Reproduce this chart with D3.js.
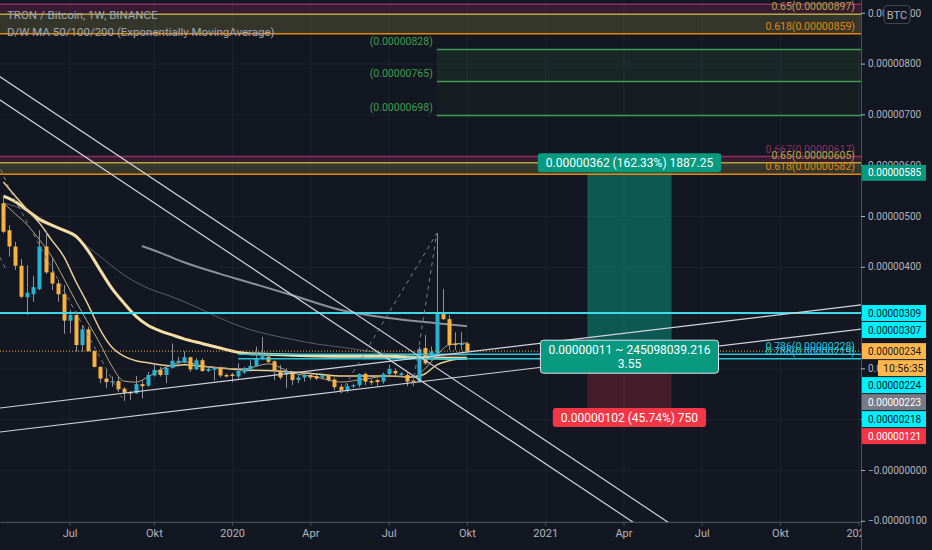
<!DOCTYPE html>
<html>
<head>
<meta charset="utf-8">
<script src="https://cdn.jsdelivr.net/npm/d3@7"></script>
<style>
body { margin: 0; background: #131722; }
svg { display: block; font-family: Roboto, "Noto Sans", sans-serif; }
</style>
</head>
<body>
<div id="chart"></div>
<script>
// TRON / Bitcoin weekly, values in satoshi (1e-8 BTC), first bar = week of 2019-04-15
const firstWeek = "2019-04-15";
const open  = [525,472,440,402,340,346,356,440,389,367,346,294,305,246,277,234,203,180,173,175,160,153,151,169,166,186,197,187,201,212,212,222,198,216,195,197,201,187,188,184,192,197,205,219,223,214,195,188,193,177,182,187,185,182,187,178,164,156,165,167,189,175,177,174,189,195,187,187,176,174,240,220,230,307,297,249,246,249];
const high  = [538,482,449,415,403,382,472,469,417,374,364,315,312,285,282,236,204,197,184,185,163,156,185,177,193,211,203,207,249,223,234,223,220,220,203,203,204,190,191,210,203,216,243,262,229,216,207,200,195,187,190,193,187,190,189,182,169,170,170,190,192,179,180,192,207,200,193,192,180,243,266,243,466,356,305,271,271,252];
const low   = [466,420,394,338,305,331,354,386,354,331,268,269,233,233,233,202,171,161,164,154,136,138,150,141,164,184,184,171,200,203,210,193,197,193,193,176,182,182,173,180,189,193,203,216,210,177,178,161,167,171,174,177,177,178,174,157,151,152,161,163,167,167,165,170,187,185,184,165,165,172,207,216,226,295,236,236,236,231];
const close = [469,440,402,341,349,360,440,389,367,346,294,305,246,277,234,203,180,173,175,159,152,151,169,165,187,197,187,201,215,215,222,198,216,195,199,201,186,184,185,195,200,205,220,224,213,195,182,193,177,182,187,182,180,187,177,163,156,165,167,189,174,172,173,189,199,190,190,174,172,238,210,233,307,297,246,246,249,234];

// moving averages at some bar indices
const maIdxA = [0,2,4,6,8,10,12,14,16,18,20,22,24,26,28,30,33,36,40,48,56,64,70,77];
const maA    = [539,528,511,493,482,472,461,433,395,358,329,303,285,274,266,258,249,240,230,226,224,224,221,220];
const maIdxB = [0,2,4,6,8,10,12,14,16,18,20,22,24,26,28,30,33,36,40,44,48,52,56,60,64,68,70,72,74,77];
const maB    = [567,539,512,486,453,421,372,327,278,242,224,215,211,207,205,207,204,201,197,196,193,189,185,185,185,183,189,207,215,220];
const maC    = [526,504,482,453,421,378,333,291,250,205,175,173,183,197,207,213,205,201,199,209,191,183,173,179,185,183,199,226,246,250];
const maIdxG1 = [0,4,8,12,16,20,24,28,32,36,40,44,48,52,56,60,64,68,72,77];
const maG1    = [526,510,484,457,421,384,358,341,321,299,280,267,257,248,242,235,229,227,226,226];
const maIdxG2 = [23,26,30,36,40,48,56,64,72,77];
const maG2    = [441,428,409,386,372,344,315,299,289,283];

// axis ticks
const xTickMonths = ["2019-07","2019-10","2020-01","2020-04","2020-07","2020-10","2021-01","2021-04","2021-07","2021-10","2022-01"];
const xTickLabels = ["Jul","Okt","2020","Apr","Jul","Okt","2021","Apr","Jul","Okt","2022"];
const yTicks = [-100,0,100,200,300,400,500,600,700,800,900];

// drawings
const fibRatios = ["0.667","0.65","0.618"];
const fibTop = [917, 897, 859];
const fibLow = [617, 605, 582];
const fibColors = ["#8e2f5e", "#b3a540", "#e3870e"];
const targetLevels = [828, 765, 698];
const targetStart = 72;
const cyanFib = [228, 219];
const cyanFibStart = 39;
const resistance = 309;
const lastPrice = 234;
const trendLines = [   // [bar, value, bar, value]
  [0, 723.8, 60, 249.6],
  [0, 769.7, 60, 295.5],
  [0, 122.8, 60, 207.9],
  [0, 75.6, 60, 160.6]
];
const dashIdx = [[-1, 1.5, 19.7], [-0.6, 0.3], [56, 72, 68]];
const dashVal = [[606, 541, 142], [419, 398], [151, 466, 165]];
const longStart = 97, longEnd = 111;
const longEntry = 223, longTarget = 585, longStop = 121;

// price scale labels
const markValues = [585, 309, 307, 234, 224, 223, 218, 121];
const markKinds  = ["teal","cyan","cyan","last","cyan","gray","cyan","red"];
const timerText = "10:56:35";

const W = 932, H = 550;
const plotW = 861, plotH = 522;
const upColor = "#26b3d3", downColor = "#f8b13f";

const svg = d3.select("#chart").append("svg")
    .attr("width", W)
    .attr("height", H);
svg.append("rect").attr("width", W).attr("height", H).attr("fill", "#131722");

const x = d3.scaleUtc()
    .domain([new Date("2019-04-11T02:00:00Z"), new Date("2022-01-06T05:00:00Z")])
    .range([0, plotW]);
const y = d3.scaleLinear().domain([-102.4, 925.2]).range([plotH, 0]);

const weekDate = i => new Date(Date.parse(firstWeek) + i * 7 * 864e5);
const xi = i => x(weekDate(i));
const sat = v => (v <= 0 ? "\u2212" : "") + (Math.abs(v) * 1e-8).toFixed(8);

const defs = svg.append("defs");
defs.append("clipPath").attr("id", "plot").append("rect").attr("width", plotW).attr("height", plotH);
defs.append("clipPath").attr("id", "xlab").append("rect").attr("width", plotW).attr("height", H);

const plot = svg.append("g").attr("clip-path", "url(#plot)");

// grid
const xTickDates = xTickMonths.map(m => d3.utcMonday.ceil(new Date(m + "-01T00:00:00Z")));
plot.append("g")
    .attr("transform", `translate(0,${plotH})`)
    .call(d3.axisBottom(x).tickValues(xTickDates).tickSize(-plotH).tickFormat(""))
    .call(g => g.select(".domain").remove())
    .call(g => g.selectAll("line").attr("stroke", "#1e2230"));
plot.append("g")
    .call(d3.axisLeft(y).tickValues(yTicks).tickSize(-plotW).tickFormat(""))
    .call(g => g.select(".domain").remove())
    .call(g => g.selectAll("line").attr("stroke", "#1e2230"));

// fib bands
function fibBands(levels) {
    plot.append("rect").attr("x", 0).attr("width", plotW)
        .attr("y", y(levels[0])).attr("height", y(levels[1]) - y(levels[0]))
        .attr("fill", "rgba(158,38,100,0.25)");
    plot.append("rect").attr("x", 0).attr("width", plotW)
        .attr("y", y(levels[1])).attr("height", y(levels[2]) - y(levels[1]))
        .attr("fill", "rgba(190,180,80,0.2)");
}
fibBands(fibTop);
fibBands(fibLow);

// target zone
const tx0 = xi(targetStart);
plot.append("rect").attr("x", tx0).attr("width", plotW - tx0)
    .attr("y", y(targetLevels[0])).attr("height", y(targetLevels[1]) - y(targetLevels[0]))
    .attr("fill", "rgba(76,175,80,0.1)");
plot.append("rect").attr("x", tx0).attr("width", plotW - tx0)
    .attr("y", y(targetLevels[1])).attr("height", y(targetLevels[2]) - y(targetLevels[1]))
    .attr("fill", "rgba(76,175,80,0.04)");

// long position
const lx0 = xi(longStart), lx1 = xi(longEnd);
plot.append("rect").attr("x", lx0).attr("width", lx1 - lx0)
    .attr("y", y(longTarget)).attr("height", y(longEntry) - y(longTarget))
    .attr("fill", "rgba(8,153,129,0.5)");
plot.append("rect").attr("x", lx0).attr("width", lx1 - lx0)
    .attr("y", y(longEntry)).attr("height", y(longStop) - y(longEntry))
    .attr("fill", "rgba(242,54,69,0.22)");

// moving averages
const maLine = d3.line().x(d => xi(d[0])).y(d => y(d[1])).curve(d3.curveMonotoneX);
function drawMA(idx, vals, color, w) {
    plot.append("path")
        .datum(idx.map((d, k) => [d, vals[k]]))
        .attr("fill", "none")
        .attr("stroke", color)
        .attr("stroke-width", w)
        .attr("d", maLine);
}
drawMA(maIdxG1, maG1, "#5b5e69", 1);
drawMA(maIdxG2, maG2, "#8e9098", 2);
drawMA(maIdxA, maA, "#f4dea4", 3);
drawMA(maIdxB, maB, "#e9cf8f", 1.5);
drawMA(maIdxB, maC, "#b9a67e", 1);

// candles
const candles = open.map((o, i) => ({i: i, o: o, h: high[i], l: low[i], c: close[i]}));
plot.selectAll(".wick")
    .data(candles)
    .enter()
    .append("line")
    .attr("x1", d => Math.round(xi(d.i)) + 0.5)
    .attr("x2", d => Math.round(xi(d.i)) + 0.5)
    .attr("y1", d => y(d.h))
    .attr("y2", d => y(d.l))
    .attr("stroke", "#8d9099");
plot.selectAll(".body")
    .data(candles)
    .enter()
    .append("rect")
    .attr("x", d => Math.round(xi(d.i)) - 1.5)
    .attr("width", 4)
    .attr("y", d => y(Math.max(d.o, d.c)))
    .attr("height", d => Math.max(1.2, Math.abs(y(d.o) - y(d.c))))
    .attr("fill", d => d.c >= d.o ? upColor : downColor);

// fib lines
function hLine(v, x0, color, w, dash) {
    plot.append("line")
        .attr("x1", x0).attr("x2", plotW)
        .attr("y1", y(v)).attr("y2", y(v))
        .attr("stroke", color)
        .attr("stroke-width", w)
        .attr("stroke-dasharray", dash || null);
}
fibTop.forEach((v, k) => hLine(v, 0, fibColors[k], 1.5));
fibLow.forEach((v, k) => hLine(v, 0, fibColors[k], 1.5));
targetLevels.forEach(v => hLine(v, tx0, "#3f9d4e", 1.5));
plot.append("rect")
    .attr("x", xi(67)).attr("width", xi(69) - xi(67))
    .attr("y", y(cyanFib[0])).attr("height", y(cyanFib[1]) - y(cyanFib[0]))
    .attr("fill", "rgba(38,198,218,0.3)");
cyanFib.forEach(v => hLine(v, xi(cyanFibStart), "#26c6da", 1.5));
hLine(resistance, 0, "#3cdaea", 2);
hLine(lastPrice, 0, "#f8b13f", 1, "1,2");

// trend lines, extended over the whole pane
trendLines.forEach(t => {
    const xa = xi(t[0]), ya = y(t[1]), xb = xi(t[2]), yb = y(t[3]);
    const s = (yb - ya) / (xb - xa);
    plot.append("line")
        .attr("x1", -10).attr("y1", ya + s * (-10 - xa))
        .attr("x2", plotW + 10).attr("y2", ya + s * (plotW + 10 - xa))
        .attr("stroke", "#d1d4dc")
        .attr("stroke-width", 1.2);
});

// dashed pattern lines
const dashLine = d3.line().x(d => xi(d[0])).y(d => y(d[1]));
dashIdx.forEach((idx, k) => {
    plot.append("path")
        .datum(idx.map((d, j) => [d, dashVal[k][j]]))
        .attr("fill", "none")
        .attr("stroke", "#7c7f8a")
        .attr("stroke-width", 1)
        .attr("stroke-dasharray", "4,4")
        .attr("d", dashLine);
});

// level texts
function levelText(v, txt, color, xr, anchor) {
    plot.append("text")
        .attr("x", xr).attr("y", y(v) - 4)
        .attr("text-anchor", anchor || "end")
        .attr("fill", color)
        .attr("font-size", 10.5)
        .text(txt);
}
fibTop.forEach((v, k) => levelText(v, fibRatios[k] + "(" + sat(v) + ")", fibColors[k], 855));
fibLow.forEach((v, k) => levelText(v, fibRatios[k] + "(" + sat(v) + ")", fibColors[k], 855));
cyanFib.forEach(v => levelText(v, "0.786(" + sat(v) + ")", "#26c6da", 855));
targetLevels.forEach(v => levelText(v, "(" + sat(v) + ")", "#3f9d4e", tx0 - 4));

// long position labels
function tag(cx, cy, lines, fill, border) {
    const g = svg.append("g");
    const texts = lines.map((t, k) => g.append("text")
        .attr("x", cx)
        .attr("y", cy + (k - (lines.length - 1) / 2) * 14 + 4)
        .attr("text-anchor", "middle")
        .attr("fill", "#ffffff")
        .attr("font-size", 12)
        .text(t));
    const tw = d3.max(texts, t => t.node().getComputedTextLength());
    const h = lines.length * 14 + 5;
    g.insert("rect", "text")
        .attr("x", cx - tw / 2 - 8).attr("width", tw + 16)
        .attr("y", cy - h / 2).attr("height", h)
        .attr("rx", 3)
        .attr("fill", fill)
        .attr("stroke", border || "none");
}
const lcx = (lx0 + lx1) / 2;
const pct = d => (d / longEntry * 100).toFixed(2) + "%";
tag(lcx, y(longTarget) - 10, [sat(longTarget - longEntry) + " (" + pct(longTarget - longEntry) + ") 1887.25"], "#089981");
tag(lcx, y(longStop) + 9, [sat(longEntry - longStop) + " (" + pct(longEntry - longStop) + ") 750"], "#f23645");
tag(lcx, y(longEntry), ["0.00000011 ~ 245098039.216", "3.55"], "#089981", "#e0e3eb");

// legend
svg.append("text").attr("x", 7).attr("y", 19).attr("fill", "#a3a6af").attr("font-size", 11.5)
    .text("TRON / Bitcoin, 1W, BINANCE");
svg.append("text").attr("x", 7).attr("y", 36).attr("fill", "#a3a6af").attr("font-size", 11.5)
    .text("D/W MA 50/100/200 (Exponentially MovingAverage)");

// axes
svg.append("g")
    .attr("clip-path", "url(#xlab)")
    .append("g")
    .attr("transform", `translate(0,${plotH})`)
    .call(d3.axisBottom(x).tickValues(xTickDates).tickSize(4).tickSizeOuter(0)
        .tickFormat((d, i) => xTickLabels[i]))
    .call(g => g.select(".domain").attr("stroke", "#4c505b"))
    .call(g => g.selectAll(".tick line").attr("stroke", "#4c505b"))
    .call(g => g.selectAll("text").attr("fill", "#b2b5be").attr("font-size", 11)
        .attr("font-family", "Roboto, sans-serif"));

svg.append("g")
    .attr("transform", `translate(${plotW},0)`)
    .call(d3.axisRight(y).tickValues(yTicks).tickSize(4).tickSizeOuter(0).tickFormat(sat))
    .call(g => g.select(".domain").attr("stroke", "#4c505b").attr("d", `M0.5,0V${H}`))
    .call(g => g.selectAll(".tick line").attr("stroke", "#b2b5be"))
    .call(g => g.selectAll("text").attr("fill", "#b2b5be").attr("font-size", 10)
        .attr("font-family", "Roboto, sans-serif"));

// price scale labels, stacked like the platform does
const kindStyle = {
    teal: ["#089981", "#ffffff"],
    cyan: ["#00f0ff", "#131722"],
    last: ["#ffb74d", "#131722"],
    gray: ["#787b86", "#ffffff"],
    red:  ["#f23645", "#ffffff"]
};
const marks = markValues.map((v, k) => ({v: v, kind: markKinds[k], text: sat(v)}));
marks.splice(4, 0, {v: lastPrice - 0.01, kind: "last", text: timerText, timer: true});
let lastY = -Infinity;
marks.forEach(m => {
    m.cy = Math.max(y(m.v), lastY + 17);
    lastY = m.cy;
});
const markG = svg.append("g").selectAll("g").data(marks).enter().append("g");
markG.append("rect")
    .attr("x", d => d.timer ? 878 : plotW + 1)
    .attr("width", d => d.timer ? 48 : 64)
    .attr("y", d => d.cy - 8)
    .attr("height", 16)
    .attr("fill", d => kindStyle[d.kind][0]);
markG.append("text")
    .attr("x", d => d.timer ? 883 : 868)
    .attr("y", d => d.cy + 3.5)
    .attr("fill", d => kindStyle[d.kind][1])
    .attr("font-size", d => d.timer ? 10.5 : 10)
    .text(d => d.text);

// currency badge
svg.append("rect").attr("x", 884).attr("y", 5.5).attr("width", 26).attr("height", 18).attr("rx", 3)
    .attr("fill", "#131722").attr("stroke", "#434651");
svg.append("text").attr("x", 897).attr("y", 18.5).attr("text-anchor", "middle")
    .attr("fill", "#b2b5be").attr("font-size", 11).text("BTC");
</script>
</body>
</html>
